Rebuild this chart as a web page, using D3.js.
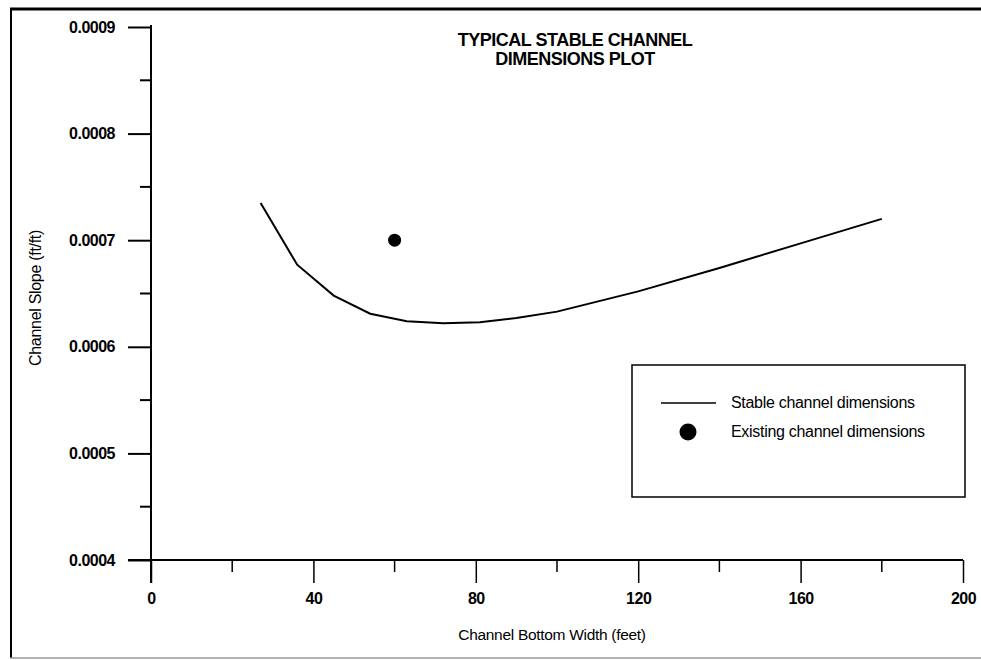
<!DOCTYPE html>
<html>
<head>
<meta charset="utf-8">
<script src="https://cdn.jsdelivr.net/npm/d3@7"></script>
<style>
  body { margin: 0; background: #fff; }
  svg { display: block; font-family: 'Liberation Sans', Arial, sans-serif; }
</style>
</head>
<body>
<div class="container"></div>
<script>
const w = 981;
const h = 660;

// stable channel curve (bottom width in feet, slope ft/ft)
const widths = [27, 36, 45, 54, 63, 72, 81, 90, 100, 120, 140, 160, 180];
const slopes = [0.000735, 0.000677, 0.000648, 0.000631, 0.000624, 0.000622, 0.000623, 0.000627, 0.000633, 0.000652, 0.000674, 0.000697, 0.00072];

// existing channel point
const existing = [{ x: 60, y: 0.0007 }];

const xMajor = [0, 40, 80, 120, 160, 200];
const xMinor = [20, 60, 100, 140, 180];
const yMajor = [0.0004, 0.0005, 0.0006, 0.0007, 0.0008, 0.0009];
const yMinor = [0.00045, 0.00055, 0.00065, 0.00075, 0.00085];

const legendItems = ['Stable channel dimensions', 'Existing channel dimensions'];
const titleLines = ['TYPICAL STABLE CHANNEL', 'DIMENSIONS PLOT'];

const xScale = d3.scaleLinear().domain([0, 200]).range([151, 963]);
const yScale = d3.scaleLinear().domain([0.0004, 0.0009]).range([560, 27]);

const svg = d3.select('.container')
  .append('svg')
  .attr('width', w)
  .attr('height', h);

// scanned page frame
svg.append('line')
  .attr('x1', 10).attr('x2', 981).attr('y1', 9).attr('y2', 9)
  .attr('stroke', '#000').attr('stroke-width', 3);
svg.append('line')
  .attr('x1', 11).attr('x2', 11).attr('y1', 8).attr('y2', 658)
  .attr('stroke', '#000').attr('stroke-width', 2);
svg.append('line')
  .attr('x1', 10).attr('x2', 981).attr('y1', 658).attr('y2', 658)
  .attr('stroke', '#999').attr('stroke-width', 1.5);

// y axis
const yAxis = d3.axisLeft(yScale)
  .tickValues(yMajor)
  .tickSize(23)
  .tickPadding(13)
  .tickFormat(d3.format('.4f'));
const gy = svg.append('g')
  .attr('id', 'y-axis')
  .attr('transform', 'translate(151,0)')
  .call(yAxis);
gy.select('.domain').remove();
gy.selectAll('line').attr('stroke-width', 2);
gy.selectAll('text')
  .style('font-size', '16px')
  .style('font-weight', 'bold')
  .style('letter-spacing', '-0.5px');
gy.selectAll('.minor')
  .data(yMinor)
  .enter()
  .append('line')
  .attr('class', 'minor')
  .attr('x1', -11).attr('x2', 0)
  .attr('y1', (d) => yScale(d)).attr('y2', (d) => yScale(d))
  .attr('stroke', '#000').attr('stroke-width', 2);
svg.append('line')
  .attr('x1', 151).attr('x2', 151)
  .attr('y1', yScale(0.0009) - 2).attr('y2', 583)
  .attr('stroke', '#000').attr('stroke-width', 2);

// x axis
const xAxis = d3.axisBottom(xScale)
  .tickValues(xMajor)
  .tickSize(23)
  .tickPadding(10)
  .tickFormat(d3.format('d'));
const gx = svg.append('g')
  .attr('id', 'x-axis')
  .attr('transform', 'translate(0,560)')
  .call(xAxis);
gx.select('.domain').remove();
gx.selectAll('line').attr('stroke-width', 1.5);
gx.selectAll('text')
  .style('font-size', '16px')
  .style('font-weight', 'bold')
  .style('letter-spacing', '-0.5px');
gx.selectAll('.minor')
  .data(xMinor)
  .enter()
  .append('line')
  .attr('class', 'minor')
  .attr('x1', (d) => xScale(d)).attr('x2', (d) => xScale(d))
  .attr('y1', 0).attr('y2', 12)
  .attr('stroke', '#000').attr('stroke-width', 1.5);
svg.append('line')
  .attr('x1', 128).attr('x2', 963)
  .attr('y1', 560).attr('y2', 560)
  .attr('stroke', '#000').attr('stroke-width', 2);

// axis labels
svg.append('text')
  .attr('transform', 'rotate(-90)')
  .attr('x', -298)
  .attr('y', 41)
  .attr('text-anchor', 'middle')
  .style('font-size', '16px')
  .style('letter-spacing', '-0.3px')
  .text('Channel Slope (ft/ft)');
svg.append('text')
  .attr('x', 552)
  .attr('y', 640)
  .attr('text-anchor', 'middle')
  .style('font-size', '15.5px')
  .style('letter-spacing', '-0.3px')
  .text('Channel Bottom Width (feet)');

// title
svg.selectAll('.title')
  .data(titleLines)
  .enter()
  .append('text')
  .attr('class', 'title')
  .attr('x', 575)
  .attr('y', (d, i) => 46 + i * 19)
  .attr('text-anchor', 'middle')
  .style('font-size', '18px')
  .style('font-weight', 'bold')
  .style('letter-spacing', '-0.5px')
  .text((d) => d);

// stable channel line
const line = d3.line()
  .x((d, i) => xScale(widths[i]))
  .y((d) => yScale(d));
svg.append('path')
  .datum(slopes)
  .attr('d', line)
  .attr('fill', 'none')
  .attr('stroke', '#000')
  .attr('stroke-width', 2);

// existing channel point
svg.selectAll('.dot')
  .data(existing)
  .enter()
  .append('circle')
  .attr('class', 'dot')
  .attr('cx', (d) => xScale(d.x))
  .attr('cy', (d) => yScale(d.y))
  .attr('r', 6.5)
  .attr('fill', '#000');

// legend
svg.append('rect')
  .attr('x', 632).attr('y', 365)
  .attr('width', 333).attr('height', 132)
  .attr('fill', 'none')
  .attr('stroke', '#000')
  .attr('stroke-width', 1.5);
const legend = svg.selectAll('.legend')
  .data(legendItems)
  .enter()
  .append('g')
  .attr('class', 'legend')
  .attr('transform', (d, i) => 'translate(0,' + (403 + i * 29) + ')');
legend.append('text')
  .attr('x', 731)
  .attr('y', 5)
  .style('font-size', '16px')
  .style('letter-spacing', '-0.3px')
  .text((d) => d);
legend.filter((d, i) => i === 0)
  .append('line')
  .attr('x1', 661).attr('x2', 716)
  .attr('y1', 0).attr('y2', 0)
  .attr('stroke', '#000').attr('stroke-width', 1.5);
legend.filter((d, i) => i === 1)
  .append('circle')
  .attr('cx', 688).attr('cy', 0)
  .attr('r', 8.5)
  .attr('fill', '#000');
</script>
</body>
</html>
